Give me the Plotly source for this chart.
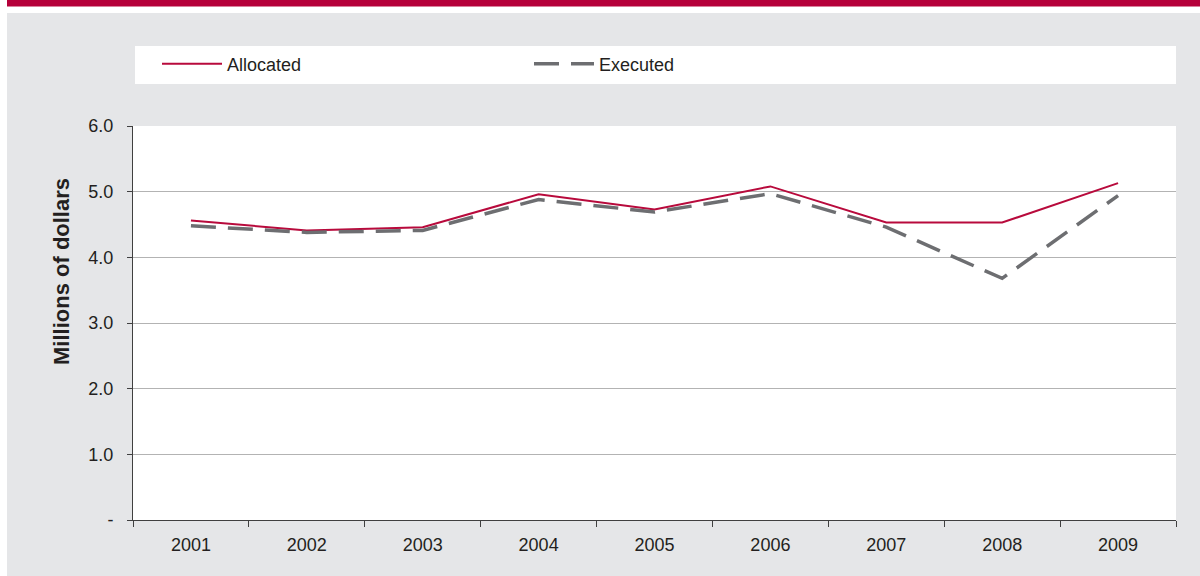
import plotly.graph_objects as go

years = ["2001", "2002", "2003", "2004", "2005", "2006", "2007", "2008", "2009"]
allocated = [4.56, 4.41, 4.46, 4.96, 4.73, 5.08, 4.53, 4.53, 5.13]
executed = [4.48, 4.38, 4.41, 4.88, 4.69, 4.97, 4.46, 3.68, 4.94]
y_tickvals = [0, 1, 2, 3, 4, 5, 6]
y_ticktext = ["-", "1.0", "2.0", "3.0", "4.0", "5.0", "6.0"]

W, H = 1200, 576
L, R, T, B = 133, 1176, 126, 520
FONT = "Liberation Sans Narrow, Arial Narrow, Liberation Sans, sans-serif"
TXT = "#231F20"
GREY = "#E5E6E8"


def px(x):
    return (x - L) / (R - L)


def py(y):
    return (B - y) / (B - T)


fig = go.Figure()
fig.add_trace(go.Scatter(x=years, y=allocated, mode="lines", name="Allocated",
                         line=dict(color="#B80A3C", width=2)))
fig.add_trace(go.Scatter(x=years, y=executed, mode="lines", name="Executed",
                         line=dict(color="#6D6E71", width=3.5, dash="25px,12px")))

shapes = [
    # white strip on the left and white gap at top
    dict(type="rect", xref="paper", yref="paper", x0=px(-5), x1=px(7), y0=py(-5), y1=py(580),
         fillcolor="white", line=dict(width=0), layer="below"),
    dict(type="rect", xref="paper", yref="paper", x0=px(-5), x1=px(1205), y0=py(-5), y1=py(13),
         fillcolor="white", line=dict(width=0), layer="below"),
    # top red band
    dict(type="rect", xref="paper", yref="paper", x0=px(7), x1=px(1205), y0=py(-5), y1=py(6.5),
         fillcolor="#B5003A", line=dict(width=0), layer="below"),
    # legend white box
    dict(type="rect", xref="paper", yref="paper", x0=px(135), x1=px(1176), y0=py(46), y1=py(84),
         fillcolor="white", line=dict(width=0), layer="below"),
]

fig.update_layout(
    width=W, height=H,
    margin=dict(l=L, r=W - R, t=T, b=H - B, pad=0),
    paper_bgcolor=GREY,
    plot_bgcolor="white",
    shapes=shapes,
    font=dict(family=FONT, size=18, color=TXT),
    showlegend=True,
    legend=dict(orientation="h", x=px(157), y=py(64), xanchor="left", yanchor="middle",
                bgcolor="rgba(0,0,0,0)", font=dict(family=FONT, size=18, color=TXT),
                entrywidth=297, entrywidthmode="pixels", itemwidth=60,
                tracegroupgap=0),
    annotations=[dict(text="<b>Millions of dollars</b>", xref="paper", yref="paper",
                      x=px(61), y=py(272), textangle=-90, showarrow=False,
                      xanchor="center", yanchor="middle",
                      font=dict(family=FONT, size=22, color=TXT))],
    xaxis=dict(type="category", range=[-0.5, 8.5], tickson="boundaries",
               ticks="outside", ticklen=6, tickcolor="#404040",
               showline=True, linecolor="#404040", linewidth=1,
               showgrid=False, tickfont=dict(size=18, color=TXT),
               ticklabelstandoff=8, fixedrange=True),
    yaxis=dict(range=[0, 6], tickvals=y_tickvals, ticktext=y_ticktext,
               ticks="outside", ticklen=5, tickcolor="#404040",
               showline=True, linecolor="#404040", linewidth=1,
               showgrid=True, gridcolor="#B3B3B3", gridwidth=1,
               zeroline=False, tickfont=dict(size=18, color=TXT),
               ticklabelstandoff=10, fixedrange=True),
)

fig.write_html("out.html", config={"displayModeBar": False},
               post_script="document.body.style.margin='0';")
